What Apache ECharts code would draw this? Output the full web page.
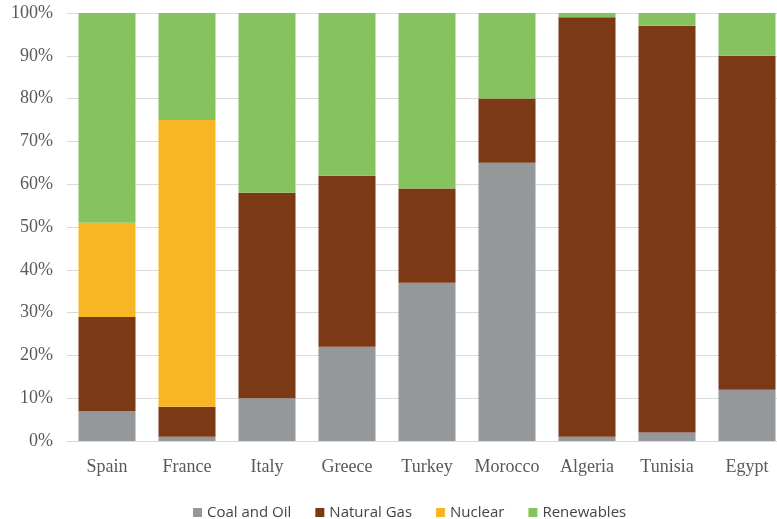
<!DOCTYPE html>
<html>
<head>
<meta charset="utf-8">
<script src="https://cdn.jsdelivr.net/npm/echarts@6/dist/echarts.min.js"></script>
<style>
    html, body { margin: 0; padding: 0; background: #fff; }
    #chart { width: 777px; height: 519px; }
</style>
</head>
<body>
<div id="chart"></div>
<script>
// share of electricity generation, %
const countries = ['Spain', 'France', 'Italy', 'Greece', 'Turkey', 'Morocco', 'Algeria', 'Tunisia', 'Egypt'];
const coalOil = [7, 1, 10, 22, 37, 65, 1, 2, 12];
const naturalGas = [22, 7, 48, 40, 22, 15, 98, 95, 78];
const nuclear = [22, 67, 0, 0, 0, 0, 0, 0, 0];
const renewables = [49, 25, 42, 38, 41, 20, 1, 3, 10];

const seriesDefs = [
    { name: 'Coal and Oil', data: coalOil, color: '#95989a' },
    { name: 'Natural Gas', data: naturalGas, color: '#7b3916' },
    { name: 'Nuclear', data: nuclear, color: '#f9b624' },
    { name: 'Renewables', data: renewables, color: '#86c35f' }
];

let chart = echarts.init(document.getElementById('chart'));

chart.setOption({
    animation: false,
    backgroundColor: '#fff',
    grid: { left: 67, width: 720, top: 13, height: 428, outerBoundsMode: 'none', containLabel: false },
    legend: {
        top: 500,
        left: 188,
        itemWidth: 9,
        itemHeight: 9,
        itemGap: 24,
        icon: 'rect',
        textStyle: { fontFamily: 'Open Sans', fontSize: 15, color: '#444' },
        data: seriesDefs.map(s => s.name)
    },
    xAxis: {
        type: 'category',
        data: countries,
        axisLine: { show: true, lineStyle: { color: '#d9d9d9', width: 1 } },
        axisTick: { show: false },
        axisLabel: { interval: 0, fontFamily: 'Liberation Serif', fontSize: 18, color: '#595959', margin: 17 }
    },
    yAxis: {
        type: 'value',
        min: 0,
        max: 100,
        interval: 10,
        axisLine: { show: false },
        axisTick: { show: false },
        splitLine: { lineStyle: { color: '#d9d9d9', width: 1 } },
        axisLabel: {
            fontFamily: 'Liberation Serif', fontSize: 18, color: '#595959', margin: 14,
            formatter: '{value}%'
        }
    },
    series: seriesDefs.map(s => ({
        name: s.name,
        type: 'bar',
        stack: 'total',
        barWidth: 57,
        data: s.data,
        itemStyle: { color: s.color }
    }))
});
</script>
</body>
</html>
